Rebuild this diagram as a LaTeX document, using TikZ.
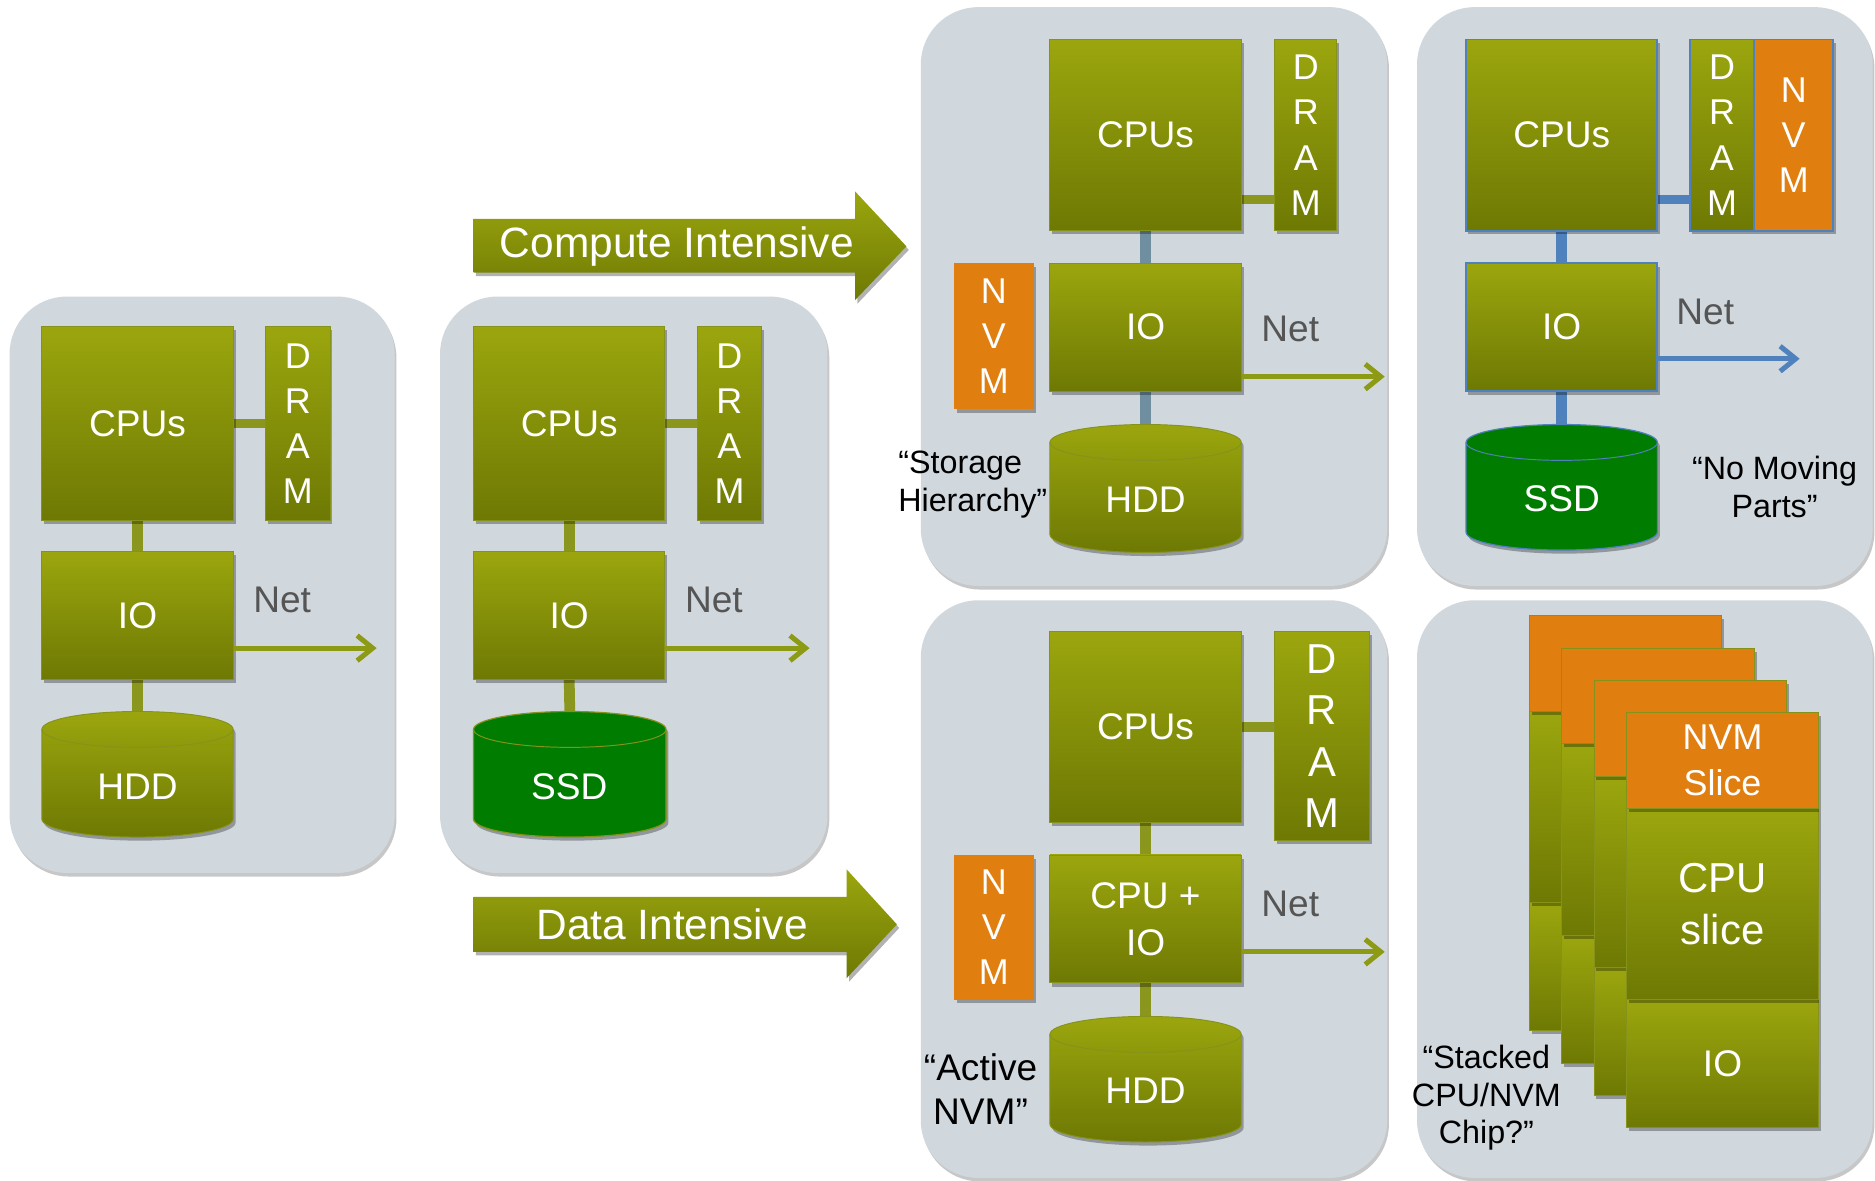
\documentclass[tikz,border=0pt]{standalone}
\usepackage{fontspec}
\setmainfont{Liberation Sans}
\usetikzlibrary{shadows,arrows.meta}
\pgfdeclarelayer{back}
\pgfdeclarelayer{mid}
\pgfsetlayers{back,mid,main}
\definecolor{panelc}{HTML}{D0D8DE}
\definecolor{otop}{HTML}{9BA60E}
\definecolor{obot}{HTML}{6E7904}
\definecolor{oline}{HTML}{8A961E}
\definecolor{oarrow}{HTML}{8C9A14}
\definecolor{oborder}{HTML}{86931A}
\definecolor{orangec}{HTML}{E07E10}
\definecolor{ssdc}{HTML}{007D00}
\definecolor{steel}{HTML}{6F8FA0}
\definecolor{bluec}{HTML}{4F81BD}
\definecolor{netc}{HTML}{555555}
\newcommand{\szlab}{\fontsize{31}{38}\selectfont}
\newcommand{\szvert}{\fontsize{30}{37.7}\selectfont}
\newcommand{\szquote}{\fontsize{27}{31.5}\selectfont}
\newcommand{\szarrow}{\fontsize{35.5}{40}\selectfont}
\newcommand{\drum}[6]{%
 \pgfmathsetmacro{\dcx}{(#1+#2)/2}%
 \pgfmathsetmacro{\dk}{0.5523*(#2-#1)/2}%
 \path[#5] (#1,#3+15) -- (#1,#4-15) .. controls (#1,#4-6.7) and (\dcx-\dk,#4) .. (\dcx,#4) .. controls (\dcx+\dk,#4) and (#2,#4-6.7) .. (#2,#4-15) -- (#2,#3+15) .. controls (#2,#3+6.7) and (\dcx+\dk,#3) .. (\dcx,#3) .. controls (\dcx-\dk,#3) and (#1,#3+6.7) .. cycle;
 \draw[#6] (#1,#3+15) .. controls (#1,#3+23.3) and (\dcx-\dk,#3+30) .. (\dcx,#3+30) .. controls (\dcx+\dk,#3+30) and (#2,#3+23.3) .. (#2,#3+15);
}
\tikzset{
  sh/.style={drop shadow={shadow xshift=2pt,shadow yshift=-3pt,opacity=0.3,fill=black}},
  panel/.style={fill=panelc,rounded corners=48pt,drop shadow={shadow xshift=1.5pt,shadow yshift=-3pt,opacity=0.22,fill=black}},
  obox/.style={rectangle,draw=oborder,line width=0.8pt,top color=otop,bottom color=obot,text=white,inner sep=0pt,sh,font=\szlab,align=center},
  bbox/.style={obox,draw=bluec,line width=1.5pt},
  nbox/.style={rectangle,fill=orangec,draw=orangec,line width=0.8pt,text=white,inner sep=0pt,sh,font=\szvert,align=center},
  ghost/.style={rectangle,inner sep=0pt},
  wtxt/.style={text=white,font=\szlab,inner sep=0pt},
  vcon/.style={line width=9pt,draw=oline},
  hcon/.style={line width=8pt,draw=oline},
  netarrow/.style={line width=4.2pt,draw=oarrow,-{Straight Barb[length=13pt,width=21pt]}},
  netlbl/.style={text=netc,font=\szlab,inner sep=0pt},
  qlbl/.style={text=black,font=\szquote,align=center,inner sep=0pt},
  blockarrow/.style={top color=otop,bottom color=obot,sh},
  cylo/.style={top color=otop,bottom color=obot,draw=oborder,line width=0.8pt,sh},
  cylg/.style={fill=ssdc,draw=#1,line width=1pt,sh},
  cyltop/.style={draw=#1,line width=0.8pt},
}
\begin{document}
\begin{tikzpicture}[x=1pt,y=-1pt]
\useasboundingbox (0,0) rectangle (1568,987);
\begin{pgfonlayer}{back}
 \fill[white] (0,0) rectangle (1568,987);
 \path[panel] (8,248) rectangle (330,730);
 \path[panel] (368,248) rectangle (692,730);
 \path[panel] (770,6) rectangle (1160,490);
 \path[panel] (770,502) rectangle (1160,985);
 \path[panel] (1185,6) rectangle (1566,490);
 \path[panel] (1185,502) rectangle (1566,985);
\end{pgfonlayer}

% block arrows
\path[blockarrow] (396,183) -- (715,183) -- (715,160) -- (758,206) -- (715,251) -- (715,228) -- (396,228) -- cycle;
\node[text=white,font=\szarrow,inner sep=0pt] (ci) at (566,206) {Compute Intensive};
\path[blockarrow] (396,750) -- (708,750) -- (708,727) -- (750,773) -- (708,818) -- (708,796) -- (396,796) -- cycle;
\node[text=white,font=\szarrow,inner sep=0pt] (di) at (562,773) {Data Intensive};

% ---------- panel 1
\node[obox,minimum width=160pt,minimum height=162pt] (cpu1) at (115,354) {CPUs};
\node[obox,font=\szvert,minimum width=54pt,minimum height=162pt] (dram1) at (249,354) {D\\R\\A\\M};
\node[obox,minimum width=160pt,minimum height=107pt] (io1) at (115,514.5) {IO};
\drum{35}{195}{595}{700}{cylo}{cyltop=oborder}
\node[ghost,minimum width=160pt,minimum height=105pt] (hdd1) at (115,647.5) {};
\node[wtxt] (hddt1) at (115,658) {HDD};
\node[netlbl] (nl1) at (236,502) {Net};
\coordinate (net1) at (315,542);
\draw[netarrow] (io1.east |- net1) -- (net1);
\begin{pgfonlayer}{mid}
 \draw[hcon] (cpu1.east) -- (dram1.west);
 \draw[vcon] (cpu1.south) -- (io1.north);
 \draw[vcon] (io1.south) -- (hdd1.north);
\end{pgfonlayer}

% ---------- panel 2
\node[obox,minimum width=160pt,minimum height=162pt] (cpu2) at (476,354) {CPUs};
\node[obox,font=\szvert,minimum width=54pt,minimum height=162pt] (dram2) at (610,354) {D\\R\\A\\M};
\node[obox,minimum width=160pt,minimum height=107pt] (io2) at (476,514.5) {IO};
\drum{396}{557}{595}{700}{cylg=oborder}{cyltop=oborder}
\node[ghost,minimum width=161pt,minimum height=105pt] (ssd2) at (476.5,647.5) {};
\node[wtxt] (ssdt2) at (476,658) {SSD};
\node[netlbl] (nl2) at (597,502) {Net};
\coordinate (net2) at (677,542);
\draw[netarrow] (io2.east |- net2) -- (net2);
\begin{pgfonlayer}{mid}
 \draw[hcon] (cpu2.east) -- (dram2.west);
 \draw[vcon] (cpu2.south) -- (io2.north);
 \draw[vcon] (io2.south) -- (ssd2.north);
\end{pgfonlayer}

% ---------- panel 3
\node[obox,minimum width=160pt,minimum height=160pt] (cpu3) at (958,113) {CPUs};
\node[obox,font=\szvert,minimum width=52pt,minimum height=160pt] (dram3) at (1092,113) {D\\R\\A\\M};
\node[nbox,minimum width=66pt,minimum height=122pt] (nvm3) at (831,281) {N\\V\\M};
\node[obox,minimum width=160pt,minimum height=107pt] (io3) at (958,273.5) {IO};
\drum{878}{1038}{355}{462}{cylo}{cyltop=oborder}
\node[ghost,minimum width=160pt,minimum height=107pt] (hdd3) at (958,408.5) {};
\node[wtxt] (hddt3) at (958,418) {HDD};
\node[netlbl] (nl3) at (1079,275) {Net};
\coordinate (net3) at (1158,315);
\draw[netarrow] (io3.east |- net3) -- (net3);
\node[qlbl,align=left,anchor=west] (sh3) at (751,405) {“Storage\\Hierarchy”};
\begin{pgfonlayer}{mid}
 \draw[hcon] ([yshift=-54pt]cpu3.east) -- ([yshift=-54pt]dram3.west);
 \draw[vcon,draw=steel] (cpu3.south) -- (io3.north);
 \draw[vcon,draw=steel] (io3.south) -- (hdd3.north);
\end{pgfonlayer}

% ---------- panel 4
\node[bbox,minimum width=160pt,minimum height=160pt] (cpu4) at (1306,113) {CPUs};
\node[bbox,font=\szvert,minimum width=54pt,minimum height=160pt] (dram4) at (1440,113) {D\\R\\A\\M};
\node[nbox,draw=bluec,line width=1.5pt,minimum width=66pt,minimum height=160pt] (nvm4) at (1500,113) {N\\V\\M};
\node[bbox,minimum width=160pt,minimum height=107pt] (io4) at (1306,273.5) {IO};
\drum{1226}{1386}{355}{460}{cylg=bluec}{cyltop=bluec}
\node[ghost,minimum width=160pt,minimum height=105pt] (ssd4) at (1306,407.5) {};
\node[wtxt] (ssdt4) at (1306,417) {SSD};
\node[netlbl] (nl4) at (1426,261) {Net};
\coordinate (net4) at (1505,300);
\draw[netarrow,draw=bluec] (io4.east |- net4) -- (net4);
\node[qlbl] (nmp) at (1484,407) {“No Moving\\Parts”};
\begin{pgfonlayer}{mid}
 \draw[hcon,draw=bluec] ([yshift=-54pt]cpu4.east) -- ([yshift=-54pt]dram4.west);
 \draw[vcon,draw=bluec] (cpu4.south) -- (io4.north);
 \draw[vcon,draw=bluec] (io4.south) -- (ssd4.north);
\end{pgfonlayer}

% ---------- panel 5
\node[obox,minimum width=160pt,minimum height=160pt] (cpu5) at (958,608) {CPUs};
\node[obox,font=\fontsize{35}{43}\selectfont,minimum width=79pt,minimum height=175pt] (dram5) at (1105.5,615.5) {D\\R\\A\\M};
\node[nbox,minimum width=66pt,minimum height=121pt] (nvm5) at (831,775.5) {N\\V\\M};
\node[obox,font=\fontsize{31}{39}\selectfont,minimum width=160pt,minimum height=107pt] (cpuio5) at (958,768.5) {CPU +\\IO};
\drum{878}{1038}{850}{955}{cylo}{cyltop=oborder}
\node[ghost,minimum width=160pt,minimum height=105pt] (hdd5) at (958,902.5) {};
\node[wtxt] (hddt5) at (958,912) {HDD};
\node[netlbl] (nl5) at (1079,756) {Net};
\coordinate (net5) at (1158,796);
\draw[netarrow] (cpuio5.east |- net5) -- (net5);
\node[qlbl,font=\fontsize{31}{37}\selectfont] (anvm) at (820,911) {“Active\\NVM”};
\begin{pgfonlayer}{mid}
 \draw[hcon] (cpu5.east) -- (dram5.west |- cpu5.east);
 \draw[vcon] (cpu5.south) -- (cpuio5.north);
 \draw[vcon] (cpuio5.south) -- (hdd5.north);
\end{pgfonlayer}

% ---------- panel 6
\foreach \k in {0,1,2}{
  \pgfmathsetmacro{\cxx}{1359.5+27*\k}
  \pgfmathsetmacro{\ty}{515+27*\k}
  \node[obox,minimum width=161pt,minimum height=107pt] (chipi\k) at (\cxx,\ty+293.5) {};
  \node[obox,minimum width=161pt,minimum height=160pt] (chipc\k) at (\cxx,\ty+160) {};
  \node[nbox,draw=oborder,minimum width=161pt,minimum height=80pt] (chipn\k) at (\cxx,\ty+40) {};
}
\node[obox,minimum width=161pt,minimum height=107pt] (chipi3) at (1440.5,889.5) {IO};
\node[obox,font=\fontsize{35}{44}\selectfont,minimum width=161pt,minimum height=160pt] (chipc3) at (1440.5,756) {CPU\\slice};
\node[nbox,draw=oborder,font=\fontsize{30}{38}\selectfont,minimum width=161pt,minimum height=80pt] (chipn3) at (1440.5,636) {NVM\\Slice};
\node[qlbl] (stk) at (1243,918) {“Stacked\\CPU/NVM\\Chip?”};
\end{tikzpicture}
\end{document}
